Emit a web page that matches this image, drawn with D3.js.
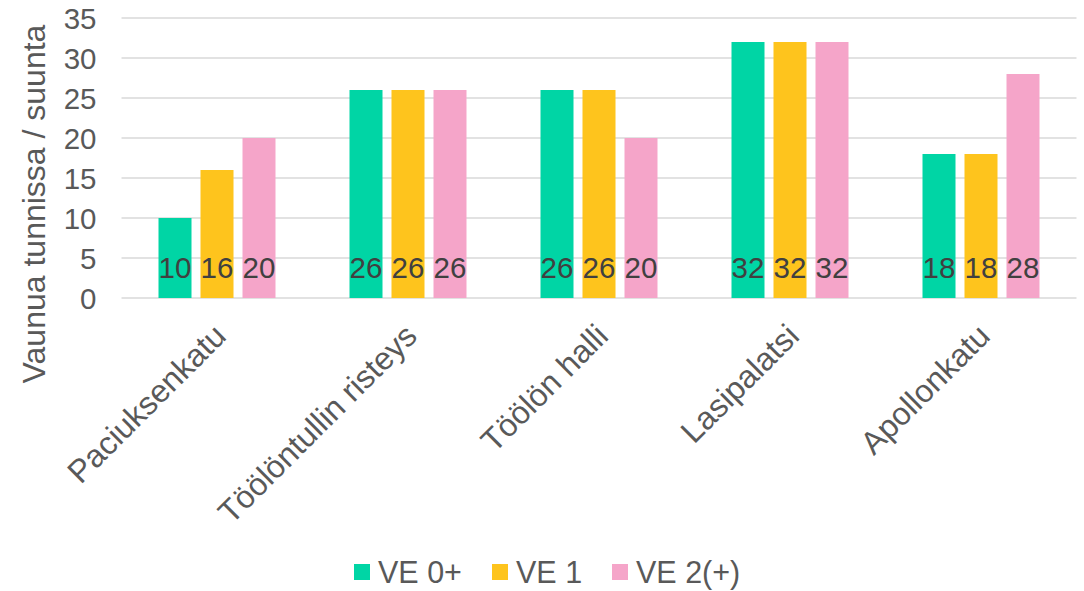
<!DOCTYPE html>
<html><head><meta charset="utf-8">
<script src="https://cdn.jsdelivr.net/npm/d3@7"></script>
<style>
html,body{margin:0;padding:0;background:#fff;}
svg text{font-family:"Liberation Sans",Arial,sans-serif;}
</style></head>
<body><svg id="c" width="1084" height="591"></svg>
<script>
const categories = ["Paciuksenkatu","Töölöntullin risteys","Töölön halli","Lasipalatsi","Apollonkatu"];
const seriesNames = ["VE 0+","VE 1","VE 2(+)"];
const ve0 = [10,26,26,32,18];
const ve1 = [16,26,26,32,18];
const ve2 = [20,26,20,32,28];
const yTicks = [0,5,10,15,20,25,30,35];
const colors = ["#00D5A5","#FEC41D","#F5A5C9"];
const yTitle = "Vaunua tunnissa / suunta";

const series = [ve0,ve1,ve2];
const svg = d3.select("#c");
const pLeft = 121.5, pRight = 1076.5, pTop = 18, pBottom = 298;

const x0 = d3.scaleBand().domain(categories).range([pLeft,pRight]).paddingInner(74/191).paddingOuter(37/191);
const x1 = d3.scaleBand().domain(d3.range(3)).range([0,x0.bandwidth()]).paddingInner(9/42).paddingOuter(0);
const y = d3.scaleLinear().domain([0,35]).range([pBottom,pTop]);

// gridlines
svg.append("g").selectAll("line").data(yTicks).join("line")
  .attr("x1",pLeft).attr("x2",pRight)
  .attr("y1",d=>y(d)).attr("y2",d=>y(d))
  .attr("stroke","#D9D9D9").attr("stroke-width",1.3);

// y axis labels
const yAxis = d3.axisLeft(y).tickValues(yTicks).tickSize(0).tickPadding(0);
const ga = svg.append("g").attr("transform",`translate(${pLeft-25},0)`).call(yAxis);
ga.select(".domain").remove();
ga.selectAll("text").attr("font-size",29.5).attr("fill","#595959").attr("font-family","Liberation Sans, Arial, sans-serif").attr("dy","0.36em");

// bars
const groups = svg.append("g").selectAll("g").data(categories).join("g")
  .attr("transform",d=>`translate(${x0(d)},0)`);
groups.selectAll("rect").data((c,i)=>series.map((s,k)=>({k,v:s[i]}))).join("rect")
  .attr("x",d=>x1(d.k)).attr("width",x1.bandwidth())
  .attr("y",d=>y(d.v)).attr("height",d=>y(0)-y(d.v))
  .attr("fill",d=>colors[d.k]);
groups.selectAll("text").data((c,i)=>series.map((s,k)=>({k,v:s[i]}))).join("text")
  .attr("x",d=>x1(d.k)+x1.bandwidth()/2).attr("y",y(0)-20)
  .attr("text-anchor","middle").attr("font-size",29.5).attr("fill","#404040")
  .text(d=>d.v);

// x labels
svg.append("g").selectAll("text").data(categories).join("text")
  .attr("transform",d=>`translate(${x0(d)+x0.bandwidth()/2+3},${pBottom+32}) rotate(-45)`)
  .attr("text-anchor","end").attr("dy","0.35em")
  .attr("font-size",32).attr("fill","#595959").text(d=>d);

// y title
svg.append("text").attr("transform","translate(45,204) rotate(-90)")
  .attr("text-anchor","middle").attr("font-size",32).attr("fill","#595959").text(yTitle);

// legend
const legX = [354,492,612];
const lg = svg.append("g").selectAll("g").data(seriesNames).join("g")
  .attr("transform",(d,i)=>`translate(${legX[i]},564)`);
lg.append("rect").attr("width",16).attr("height",16).attr("fill",(d,i)=>colors[i]);
lg.append("text").attr("x",24).attr("y",19).attr("font-size",30.5).attr("fill","#595959").text(d=>d);
</script></body></html>
